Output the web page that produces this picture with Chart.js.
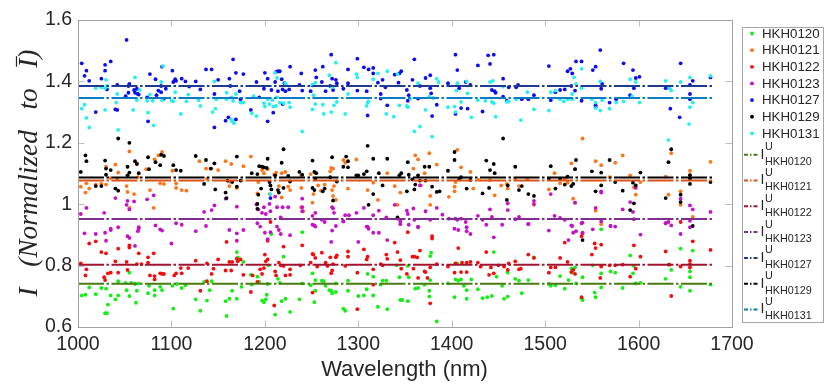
<!DOCTYPE html>
<html>
<head>
<meta charset="utf-8">
<script src="https://cdn.jsdelivr.net/npm/chart.js@4.4.1/dist/chart.umd.min.js"></script>
<style>
  html, body { margin: 0; padding: 0; background: #fff; }
  #chart { display: block; }
</style>
</head>
<body>
<canvas id="chart" width="830" height="384"></canvas>
<script>
// intensity vs wavelength, per sample, plus the mean line of each

const names = ['HKH0120', 'HKH0121', 'HKH0122', 'HKH0123', 'HKH0127', 'HKH0129', 'HKH0131'];
const means = [0.741, 1.077, 0.803, 0.952, 1.385, 1.087, 1.346];
const lineSpan = [1000, 1680];
const xTicks = [1000, 1100, 1200, 1300, 1400, 1500, 1600, 1700];
const yTicks = [0.6, 0.8, 1.0, 1.2, 1.4, 1.6];
const yTickLabels = ['0.6', '0.8', '1', '1.2', '1.4', '1.6'];

const pts0120 = [[1004,.703],[1008,.705],[1012,.729],[1019,.707],[1025,.727],[1030,.725],[1031,.645],[1029,.645],[1032,.673],[1035,.703],[1040,.690],[1043,.749],[1043,.703],[1051,.744],[1052,.720],[1055,.701],[1055,.777],[1057,.744],[1061,.740],[1062,.679],[1063,.718],[1065,.742],[1075,.710],[1076,.734],[1082,.720],[1082,.703],[1088,.731],[1090,.720],[1102,.660],[1101,.734],[1106,.740],[1111,.727],[1115,.736],[1126,.690],[1131,.653],[1135,.747],[1138,.686],[1141,.720],[1143,.749],[1158,.684],[1159,.636],[1162,.692],[1165,.718],[1170,.692],[1170,.844],[1171,.827],[1175,.731],[1177,.812],[1185,.770],[1186,.738],[1192,.764],[1194,.747],[1197,.686],[1199,.681],[1201,.690],[1202,.705],[1204,.801],[1203,.740],[1207,.903],[1211,.640],[1214,.757],[1216,.744],[1218,.684],[1220,.829],[1222,.692],
  [1240,.909],[1227,.649],[1237,.690],[1240,.742],[1251,.775],[1254,.753],[1249,.736],[1253,.681],[1254,.718],[1261,.751],[1263,.749],[1265,.734],[1269,.720],[1271,.718],[1272,.710],[1276,.714],[1276,.742],[1284,.660],[1286,.653],[1289,.718],[1289,.751],[1300,.701],[1306,.703],[1309,.723],[1310,.773],[1316,.703],[1316,.764],[1321,.666],[1324,.738],[1326,.751],[1330,.751],[1331,.658],[1341,.801],[1344,.762],[1345,.688],[1347,.688],[1353,.799],[1353,.684],[1354,.762],[1361,.725],[1364,.727],[1371,.738],[1376,.718],[1377,.753],[1377,.831],[1378,.842],[1376,.699],[1384,.618],[1396,.742],[1403,.697],[1404,.755],[1406,.807],[1407,.751],[1410,.755],[1413,.734],[1416,.720],[1416,.692],[1421,.755],[1428,.723],[1433,.694],[1438,.697],[1443,.701],[1445,.844],[1448,.764],[1454,.734],[1456,.692],[1460,.699],
  [1460,.777],[1468,.757],[1472,.751],[1475,.710],[1482,.753],[1488,.827],[1504,.740],[1506,.734],[1511,.736],[1516,.766],[1521,.725],[1525,.753],[1528,.790],[1529,.777],[1532,.794],[1533,.742],[1540,.762],[1540,.688],[1539,.694],[1551,.801],[1553,.712],[1554,.697],[1560,.918],[1560,.729],[1560,.775],[1570,.781],[1575,.777],[1583,.727],[1591,.833],[1594,.775],[1595,.799],[1597,.742],[1602,.744],[1629,.757],[1632,.803],[1635,.786],[1645,.855],[1645,.731],[1655,.781],[1655,.762],[1655,.718],[1658,.849],[1677,.738]];

const pts0121 = [[1003,1.057],[1008,1.038],[1012,1.051],[1009,1.068],[1019,1.064],[1025,1.066],[1030,1.122],[1030,1.064],[1035,1.085],[1040,1.129],[1043,1.103],[1042,1.083],[1052,1.059],[1053,1.040],[1055,1.172],[1055,.988],[1060,1.033],[1063,1.133],[1064,1.088],[1073,1.114],[1077,1.046],[1081,.988],[1082,1.146],[1086,1.159],[1088,1.068],[1090,1.170],[1092,1.066],[1101,1.109],[1105,1.068],[1105,1.053],[1111,1.046],[1116,1.044],[1130,1.140],[1137,1.116],[1138,1.083],[1143,1.116],[1150,1.111],[1158,1.140],[1162,1.074],[1164,1.131],[1162,1.059],[1170,1.053],[1175,1.077],[1177,1.124],[1185,1.155],[1192,1.035],[1193,1.072],[1197,1.111],[1199,1.101],[1203,1.114],[1205,1.033],[1210,1.096],[1212,1.103],[1215,1.059],[1218,1.101],[1218,1.022],[1222,1.105],[1225,1.057],
  [1227,1.046],[1239,1.094],[1239,1.053],[1239,.990],[1241,.977],[1249,1.098],[1251,1.005],[1252,1.033],[1257,1.061],[1260,1.044],[1264,1.064],[1270,1.107],[1271,1.118],[1273,1.116],[1272,1.046],[1273,1.027],[1274,1.059],[1276,1.014],[1284,1.144],[1286,1.135],[1289,1.051],[1298,1.146],[1310,1.046],[1316,1.070],[1321,1.014],[1331,1.101],[1339,1.059],[1342,.998],[1345,1.038],[1359,1.116],[1361,1.159],[1364,1.146],[1367,1.061],[1371,1.101],[1376,1.166],[1377,1.027],[1377,.998],[1384,1.129],[1397,1.024],[1403,1.057],[1403,1.042],[1404,1.072],[1406,1.177],[1410,1.120],[1420,1.105],[1423,1.051],[1429,1.079],[1441,1.079],[1446,1.029],[1453,1.061],
  [1459,1.066],[1460,1.051],[1468,1.083],[1472,1.059],[1481,1.081],[1488,.998],[1504,1.048],[1510,1.101],[1516,1.068],[1521,1.081],[1524,1.070],[1528,1.133],[1532,1.114],[1530,1.018],[1532,1.005],[1540,1.214],[1554,1.140],[1554,.979],[1560,1.127],[1560,.935],[1569,1.088],[1575,1.135],[1583,1.159],[1591,1.094],[1595,1.055],[1597,1.031],[1602,1.072],[1629,1.090],[1632,1.031],[1635,1.166],[1645,1.042],[1645,.998],[1655,1.109],[1655,1.096],[1658,.959],[1677,1.138]];

const pts0122 = [[1003,.807],[1009,.788],[1008,.768],[1012,.872],[1019,.879],[1025,.844],[1030,.840],[1028,.762],[1029,.753],[1032,.775],[1035,.777],[1040,.814],[1043,.855],[1043,.777],[1052,.812],[1055,.866],[1055,.859],[1053,.786],[1063,.805],[1065,.840],[1068,.805],[1075,.827],[1075,.810],[1081,.840],[1077,.768],[1082,.766],[1082,.755],[1088,.775],[1090,.773],[1092,.773],[1103,.768],[1105,.775],[1110,.792],[1111,.775],[1118,.792],[1126,.816],[1131,.718],[1138,.807],[1138,.749],[1143,.773],[1145,.790],[1150,.820],[1158,.784],[1159,.877],[1162,.812],[1164,.784],[1165,.812],[1170,.822],[1171,.814],[1174,.820],[1177,.770],[1185,.714],[1187,.768],[1192,.747],[1195,.788],[1197,.773],[1199,.792],[1200,.836],[1201,.814],[1203,.820],[1203,.881],[1206,.942],[1210,.670],[1211,.781],[1212,.768],[1215,.810],[1217,.801],[1220,.862],[1220,.799],[1222,.768],
  [1227,.788],[1227,.770],[1238,.801],[1240,.866],[1249,.810],[1251,.838],[1252,.836],[1254,.825],[1256,.797],[1251,.712],[1261,.842],[1265,.810],[1267,.799],[1270,.827],[1271,.775],[1272,.784],[1273,.805],[1276,.827],[1277,.833],[1289,.846],[1289,.829],[1286,.799],[1299,.658],[1299,.777],[1306,.853],[1309,.820],[1310,.829],[1316,.788],[1316,.738],[1324,.805],[1326,.801],[1330,.836],[1331,.822],[1339,.875],[1342,.844],[1345,.818],[1346,.790],[1352,.773],[1353,.909],[1358,.829],[1360,.829],[1359,.790],[1363,.827],[1364,.760],[1366,.849],[1371,.781],[1372,.779],[1374,.760],[1377,.677],[1377,.794],[1379,.896],[1379,.888],[1384,.805],[1396,.797],[1403,.777],[1407,.857],[1404,.807],[1410,.779],[1411,.810],[1416,.779],[1416,.810],[1420,.812],[1428,.810],[1431,.797],[1437,.844],[1440,.770],[1442,.794],[1445,.775],[1450,.801],[1456,.797],[1460,.786],
  [1461,.807],[1468,.814],[1472,.788],[1474,.790],[1482,.836],[1488,.825],[1504,.777],[1506,.794],[1511,.794],[1516,.825],[1521,.875],[1524,.812],[1528,.779],[1530,.786],[1532,.773],[1539,.896],[1539,.697],[1540,.905],[1550,.836],[1553,.872],[1554,.857],[1559,.760],[1560,.868],[1560,.797],[1569,.801],[1575,.801],[1583,.803],[1591,.764],[1595,.866],[1597,.790],[1602,.829],[1629,.846],[1635,.701],[1633,.803],[1645,.797],[1645,.942],[1655,.816],[1655,.805],[1655,.794],[1658,.879],[1677,.851]];

const pts0123 = [[1003,.968],[1009,.988],[1028,.972],[1040,1.020],[1052,.998],[1053,1.011],[1060,1.009],[1055,.983],[1065,.925],[1074,1.016],[1081,1.029],[1135,.975],[1143,.981],[1146,.996],[1158,1.018],[1170,.992],[1191,.999],[1193,.983],[1197,.972],[1199,.990],[1201,.968],[1205,1.001],[1206,.977],[1211,1.025],[1213,.990],[1219,.990],[1225,.990],[1217,.957],[1035,.920],[1043,.925],
  [1007,.905],[1019,.903],[1029,.907],[1030,.881],[1035,.916],[1053,.896],[1055,.890],[1061,.864],[1064,.912],[1065,.920],[1083,.931],[1088,.918],[1090,.914],[1100,.872],[1105,.938],[1111,.933],[1126,.912],[1137,.929],[1162,.916],[1170,.905],[1170,.881],[1177,.916],[1192,.938],[1195,.927],[1200,.907],[1203,.886],[1206,.909],[1213,.927],[1215,.916],[1217,.903],[1227,.899],
  [1240,1.018],[1240,.990],[1240,.977],[1251,.962],[1254,.972],[1253,.931],[1261,.949],[1264,.942],[1272,.990],[1273,.986],[1274,.972],[1276,.929],[1284,.944],[1286,.964],[1290,.964],[1298,.972],[1306,.988],[1309,.927],[1316,.964],[1322,.979],[1330,.957],[1339,.998],[1342,.953],[1345,.944],[1352,.979],[1353,.968],[1359,.986],[1360,.949],[1364,.925],[1366,1.061],[1372,.977],[1377,.949],[1384,.988],[1390,.966],[1397,.953],[1404,.953],[1406,.949],[1410,.953],[1415,.942],[1428,.962],[1433,.949],[1441,.983],[1443,.959],[1460,1.003],[1460,.981],
  [1251,.933],[1254,.927],[1272,.914],[1271,.877],[1284,.944],[1300,.877],[1310,.927],[1311,.920],[1316,.907],[1322,.907],[1331,.883],[1345,.935],[1354,.933],[1364,.927],[1403,.920],[1407,.916],[1416,.925],[1416,.912],[1420,.903],[1437,.933],[1445,.892],[1454,.933],
  [1468,.951],[1472,.959],[1482,.936],[1488,1.011],[1488,1.001],[1506,1.033],[1510,.962],[1516,.955],[1532,1.005],[1529,.929],[1539,.938],[1554,.988],[1560,1.038],[1560,1.042],[1560,.944],[1570,.929],[1583,.983],[1591,1.007],[1594,.975],[1597,1.053],[1595,.951],[1629,.938],[1632,.942],[1645,1.018],[1655,.996],[1658,.983],[1655,.946],[1677,.975],
  [1482,.935],[1504,.914],[1521,.949],[1528,.931],[1530,.907],[1533,.912],[1525,.883],[1540,.940],[1540,.907],[1551,.918],[1570,.929],[1575,.927],[1602,.901],[1629,.938],[1635,.931],[1645,.903],[1655,.925]];

const pts0127 = [[1004,1.459],[1007,1.418],[1009,1.435],[1012,1.402],[1019,1.300],[1025,1.409],[1029,1.454],[1029,1.435],[1031,1.374],[1035,1.465],[1040,1.309],[1042,1.307],[1042,1.389],[1052,1.535],[1051,1.352],[1054,1.385],[1054,1.363],[1055,1.392],[1060,1.372],[1061,1.363],[1064,1.359],[1063,1.376],[1065,1.357],[1074,1.348],[1075,1.270],[1077,1.424],[1083,1.407],[1084,1.355],[1086,1.370],[1089,1.365],[1090,1.448],[1089,1.385],[1094,1.376],[1092,1.344],[1101,1.435],[1102,1.398],[1104,1.407],[1105,1.402],[1111,1.409],[1115,1.400],[1119,1.383],[1126,1.400],[1131,1.374],[1137,1.439],[1146,1.250],[1143,1.439],[1146,1.359],[1150,1.405],[1158,1.272],[1161,1.283],[1162,1.409],[1163,1.385],[1166,1.472],[1169,1.428],[1169,1.276],[1173,1.368],[1174,1.342],[1177,1.424],[1185,1.307],[1191,1.398],[1194,1.348],[1199,1.376],[1200,1.428],[1203,1.409],[1203,1.270],[1207,1.372],[1212,1.431],[1214,1.368],[1206,1.020],
  [1209,1.298],[1211,1.398],[1214,1.433],[1216,1.433],[1218,1.407],[1219,1.374],[1219,1.326],[1221,1.394],[1222,1.368],[1227,1.448],[1226,1.374],[1237,1.389],[1239,1.426],[1240,1.370],[1249,1.368],[1251,1.387],[1254,1.437],[1255,1.413],[1261,1.398],[1262,1.448],[1265,1.368],[1270,1.385],[1271,1.487],[1272,1.409],[1273,1.372],[1276,1.405],[1277,1.394],[1284,1.376],[1289,1.439],[1289,1.394],[1299,1.474],[1299,1.370],[1306,1.446],[1310,1.289],[1309,1.368],[1311,1.439],[1316,1.444],[1316,1.426],[1321,1.396],[1324,1.359],[1324,1.344],[1326,1.405],[1329,1.381],[1331,1.322],[1339,1.422],[1343,1.396],[1344,1.426],[1346,1.433],[1352,1.372],[1353,1.337],[1354,1.355],[1358,1.405],[1360,1.472],[1364,1.344],[1366,1.385],[1372,1.411],[1377,1.420],[1377,1.378],[1378,1.361],[1379,1.287],[1384,1.324],[1396,1.394],[1404,1.487],[1406,1.437],[1404,1.294],[1408,1.378],[1410,1.313],[1415,1.398],[1417,1.311],[1420,1.389],[1428,1.452],[1433,1.302],[1439,1.485],[1441,1.457],[1443,1.372],[1447,1.363],[1445,1.487],
  [1446,1.368],[1455,1.409],[1455,1.350],[1459,1.337],[1461,1.381],[1469,1.381],[1471,1.389],[1475,1.342],[1482,1.342],[1488,1.355],[1504,1.450],[1506,1.339],[1511,1.365],[1516,1.372],[1521,1.374],[1524,1.433],[1527,1.441],[1529,1.426],[1528,1.385],[1532,1.370],[1533,1.465],[1539,1.465],[1539,1.337],[1551,1.437],[1554,1.448],[1554,1.322],[1554,1.316],[1559,1.502],[1561,1.392],[1560,1.376],[1569,1.331],[1576,1.342],[1584,1.459],[1591,1.355],[1594,1.437],[1595,1.378],[1597,1.411],[1601,1.415],[1629,1.378],[1633,1.378],[1634,1.311],[1644,1.283],[1645,1.459],[1655,1.389],[1655,1.359],[1655,1.342],[1658,1.402],[1677,1.413]];

const pts0129 = [[1003,1.105],[1008,1.159],[1009,1.140],[1019,1.059],[1025,1.059],[1029,1.142],[1030,1.116],[1035,1.111],[1030,1.096],[1040,1.051],[1043,1.214],[1043,1.044],[1053,1.122],[1055,1.200],[1053,1.094],[1055,1.103],[1061,1.140],[1063,1.131],[1065,1.101],[1075,1.153],[1076,1.114],[1083,1.137],[1088,1.127],[1089,1.161],[1092,1.157],[1102,1.127],[1105,1.111],[1110,1.109],[1126,1.157],[1135,1.066],[1137,1.144],[1142,1.116],[1147,1.048],[1146,1.133],[1158,1.038],[1159,1.020],[1160,1.077],[1170,1.155],[1165,1.072],[1170,1.057],[1174,1.077],[1186,1.101],[1192,1.098],[1192,.985],[1192,1.001],[1194,1.124],[1197,1.122],[1199,1.120],[1202,1.118],[1203,1.148],[1193,1.031],[1196,1.051],[1205,1.072],[1206,1.061],[1207,1.048],[1211,1.094],[1214,1.046],[1215,1.038],[1218,1.135],[1220,1.179],[1220,1.053],[1225,1.092],[1227,1.074],
  [1237,1.105],[1240,1.096],[1251,1.142],[1253,1.105],[1254,1.083],[1255,1.101],[1251,1.053],[1253,1.046],[1262,1.042],[1264,1.051],[1270,1.088],[1272,1.153],[1273,1.012],[1277,1.074],[1284,1.122],[1287,1.155],[1289,1.140],[1289,1.120],[1298,1.094],[1300,1.094],[1306,1.098],[1309,1.107],[1310,1.190],[1311,.998],[1316,1.148],[1316,1.033],[1322,1.101],[1326,1.061],[1331,1.148],[1342,.957],[1344,1.094],[1346,1.101],[1352,1.042],[1353,1.137],[1354,1.096],[1358,1.081],[1360,1.048],[1361,1.064],[1364,1.094],[1366,1.077],[1371,1.122],[1372,1.077],[1376,1.122],[1379,1.057],[1384,1.040],[1387,1.042],[1396,1.109],[1403,1.170],[1403,1.144],[1408,1.081],[1410,1.088],[1416,1.051],[1420,1.079],[1437,1.142],[1441,1.111],[1433,1.035],[1440,1.053],[1445,1.131],[1446,1.101],[1455,1.214],[1459,1.014],
  [1460,1.061],[1468,1.122],[1472,1.046],[1475,1.059],[1482,1.033],[1488,1.027],[1504,1.083],[1506,1.124],[1511,1.051],[1516,1.083],[1521,1.064],[1524,1.090],[1528,1.059],[1530,1.066],[1532,1.114],[1533,1.144],[1540,.883],[1550,1.107],[1554,1.042],[1560,1.103],[1560,1.061],[1569,1.144],[1575,1.072],[1583,1.044],[1591,.981],[1595,1.003],[1594,1.070],[1597,1.061],[1602,1.103],[1629,1.020],[1632,1.137],[1635,1.179],[1645,1.031],[1645,1.007],[1655,1.094],[1655,1.083],[1655,1.066],[1658,.929],[1677,1.072]];

const pts0131 = [[1004,1.311],[1007,1.324],[1009,1.281],[1012,1.250],[1019,1.378],[1025,1.381],[1029,1.307],[1029,1.378],[1031,1.385],[1030,1.405],[1041,1.331],[1042,1.359],[1043,1.242],[1059,1.307],[1061,1.413],[1063,1.339],[1066,1.372],[1074,1.337],[1075,1.298],[1077,1.357],[1080,1.337],[1081,1.257],[1089,1.398],[1090,1.339],[1091,1.450],[1100,1.337],[1102,1.335],[1104,1.365],[1110,1.294],[1116,1.335],[1118,1.357],[1131,1.320],[1129,1.339],[1144,1.300],[1146,1.400],[1147,1.311],[1148,1.342],[1159,1.363],[1159,1.342],[1164,1.348],[1164,1.276],[1166,1.337],[1169,1.359],[1174,1.331],[1177,1.331],[1186,1.296],[1188,1.352],[1191,1.287],[1199,1.329],[1200,1.318],[1203,1.342],[1205,1.326],[1208,1.339],[1212,1.320],[1213,1.348],[1165,1.270],[1167,1.264],[1206,1.033],
  [1209,1.318],[1211,1.428],[1213,1.411],[1216,1.331],[1220,1.329],[1222,1.394],[1223,1.387],[1226,1.331],[1227,1.316],[1240,1.237],[1251,1.309],[1251,1.389],[1252,1.355],[1254,1.396],[1254,1.326],[1262,1.324],[1263,1.294],[1269,1.420],[1271,1.300],[1272,1.381],[1274,1.322],[1276,1.461],[1277,1.333],[1286,1.294],[1289,1.359],[1298,1.424],[1299,1.413],[1309,1.320],[1310,1.331],[1311,1.335],[1316,1.407],[1321,1.426],[1330,1.294],[1331,1.433],[1338,1.285],[1342,1.424],[1344,1.322],[1352,1.320],[1353,1.316],[1356,1.344],[1360,1.237],[1364,1.394],[1366,1.253],[1372,1.307],[1376,1.350],[1379,1.220],[1380,1.346],[1384,1.409],[1386,1.398],[1396,1.316],[1403,1.318],[1404,1.300],[1405,1.370],[1406,1.394],[1410,1.333],[1416,1.400],[1417,1.361],[1421,1.283],[1428,1.339],[1436,1.337],[1441,1.398],[1443,1.333],[1445,1.329],[1447,1.285],
  [1444,1.402],[1455,1.383],[1459,1.333],[1461,1.335],[1469,1.342],[1474,1.274],[1481,1.365],[1488,1.309],[1504,1.305],[1506,1.365],[1511,1.370],[1516,1.342],[1520,1.335],[1524,1.342],[1529,1.342],[1529,1.359],[1531,1.413],[1533,1.392],[1539,1.441],[1539,1.378],[1550,1.342],[1554,1.331],[1554,1.313],[1559,1.400],[1559,1.305],[1561,1.339],[1569,1.311],[1576,1.331],[1584,1.335],[1591,1.407],[1593,1.352],[1597,1.398],[1601,1.331],[1629,1.402],[1632,1.209],[1633,1.378],[1635,1.370],[1645,1.398],[1654,1.261],[1655,1.413],[1655,1.316],[1658,1.331],[1677,1.418]];

const series = [pts0120, pts0121, pts0122, pts0123, pts0127, pts0129, pts0131];
const dotColors = ['#14ee14', '#ff7417', '#f40c0c', '#c412c8', '#0c0ced', '#000000', '#26efef'];
const lineColors = ['#4a7b10', '#d95319', '#a2142f', '#7e2f8e', '#1f3a8f', '#000000', '#0b7cc3'];
const DASH = [26, 2.5, 2.5, 2.5];

const tickFont = { family: "'Liberation Sans', Arial, sans-serif", size: 19.5 };
const ink = '#262626';

/* === datasets === */
const datasets = [];
names.forEach((n, i) => {
  datasets.push({
    type: 'line',
    label: 'mean ' + n,
    data: lineSpan.map(x => ({ x: x, y: means[i] })),
    borderColor: lineColors[i],
    borderWidth: 2,
    borderDash: DASH,
    pointRadius: 0,
    fill: false,
    order: 0
  });
});
names.forEach((n, i) => {
  datasets.push({
    type: 'scatter',
    label: n,
    data: series[i].map(p => ({ x: p[0], y: p[1] })),
    backgroundColor: dotColors[i],
    borderWidth: 0,
    pointRadius: 1.9,
    order: 10 - i
  });
});

/* === box, inner ticks, titles, legend === */
const decor = {
  id: 'decor',
  afterDraw(chart) {
    const c = chart.ctx;
    const a = chart.chartArea;
    const xs = chart.scales.x, ys = chart.scales.y;
    c.save();

    // ticks pointing inward, on all four sides
    c.strokeStyle = '#bdbdbd';
    c.lineWidth = 1;
    c.beginPath();
    xTicks.forEach(v => {
      const px = Math.round(xs.getPixelForValue(v)) + 0.5;
      c.moveTo(px, a.bottom); c.lineTo(px, a.bottom - 6.5);
      c.moveTo(px, a.top); c.lineTo(px, a.top + 6.5);
    });
    yTicks.forEach(v => {
      const py = Math.round(ys.getPixelForValue(v)) + 0.5;
      c.moveTo(a.left, py); c.lineTo(a.left + 6.5, py);
      c.moveTo(a.right, py); c.lineTo(a.right - 6.5, py);
    });
    c.stroke();

    c.strokeStyle = '#a3a3a3';
    c.strokeRect(Math.round(a.left) + 0.5, Math.round(a.top) + 0.5,
                 Math.round(a.right - a.left), Math.round(a.bottom - a.top));

    // x title
    c.fillStyle = ink;
    c.font = "22px 'Liberation Sans', Arial, sans-serif";
    c.textAlign = 'center';
    c.textBaseline = 'middle';
    c.fillText('Wavelength (nm)', (a.left + a.right) / 2 - 0.5, 370);

    // y title, rotated, italic serif with the bar over the last I
    const yt = 'I   (Normalized   to   I)';
    c.translate(30, 173);
    c.rotate(-Math.PI / 2);
    c.font = "italic 20px 'Liberation Serif', 'DejaVu Serif', serif";
    const full = c.measureText(yt).width;
    const k = 247 / full;
    c.font = `italic ${(20 * k).toFixed(2)}px 'Liberation Serif', 'DejaVu Serif', serif`;
    c.textAlign = 'left';
    const w = c.measureText(yt).width;
    const x0 = -w / 2;
    c.fillText(yt, x0, 0);
    const pre = c.measureText('I   (Normalized   to   ').width;
    const iw = c.measureText('I').width;
    c.strokeStyle = ink;
    c.lineWidth = 1.2;
    c.beginPath();
    c.moveTo(x0 + pre + 1, -13.5);
    c.lineTo(x0 + pre + iw + 2.5, -13.5);
    c.stroke();
    c.setTransform(1, 0, 0, 1, 0, 0);

    // legend
    c.fillStyle = '#fff';
    c.fillRect(742, 27, 81, 295);
    c.strokeStyle = '#a6a6a6';
    c.lineWidth = 1;
    c.strokeRect(742.5, 27.5, 81, 295);

    c.textAlign = 'left';
    c.textBaseline = 'middle';
    names.forEach((n, i) => {
      const y = 33.5 + 16.65 * i;
      c.fillStyle = dotColors[i];
      c.beginPath();
      c.arc(752, y, 1.9, 0, Math.PI * 2);
      c.fill();
      c.fillStyle = ink;
      c.font = "13.3px 'Liberation Sans', Arial, sans-serif";
      c.fillText(n, 762, y + 0.5);
    });
    names.forEach((n, i) => {
      const y = 154.2 + 25.8 * i;
      c.strokeStyle = lineColors[i];
      c.lineWidth = 2;
      c.setLineDash([4, 2, 1.5, 2]);
      c.beginPath();
      c.moveTo(744, y + 0.5);
      c.lineTo(759, y + 0.5);
      c.stroke();
      c.setLineDash([]);
      c.fillStyle = ink;
      c.font = "14px 'Liberation Sans', Arial, sans-serif";
      c.fillText('I', 760.5, y + 0.5);
      c.font = "10.8px 'Liberation Sans', Arial, sans-serif";
      c.fillText('U', 765, y - 7);
      c.fillText(n, 765, y + 7.5);
    });

    c.restore();
  }
};

new Chart(document.getElementById('chart'), {
  data: { datasets: datasets },
  options: {
    responsive: false,
    animation: false,
    events: [],
    layout: { padding: { left: 0, right: 98, top: 20, bottom: 0 } },
    plugins: { legend: { display: false }, tooltip: { enabled: false } },
    scales: {
      x: {
        type: 'linear',
        min: 1000, max: 1700,
        afterBuildTicks: s => { s.ticks = xTicks.map(v => ({ value: v })); },
        afterFit: s => { s.height = 57; },
        ticks: { font: tickFont, color: ink, padding: 6, maxRotation: 0, autoSkip: false,
                 callback: v => String(v) },
        grid: { display: false, drawTicks: false },
        border: { display: false }
      },
      y: {
        type: 'linear',
        min: 0.6, max: 1.6,
        afterBuildTicks: s => { s.ticks = yTicks.map(v => ({ value: v })); },
        afterFit: s => { s.width = 78; },
        ticks: { font: tickFont, color: ink, padding: 6, autoSkip: false,
                 callback: (v, i) => yTickLabels[i] },
        grid: { display: false, drawTicks: false },
        border: { display: false }
      }
    }
  },
  plugins: [decor]
});
</script>
</body>
</html>
